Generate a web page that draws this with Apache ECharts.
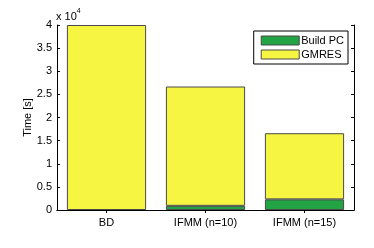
<!DOCTYPE html>
<html><head><meta charset="utf-8">
<script src="https://cdn.jsdelivr.net/npm/echarts@6/dist/echarts.min.js"></script>
<style>html,body{margin:0;padding:0;background:#fff}#c{width:374px;height:248px}</style>
</head><body><div id="c"></div>
<script>
var categories = ['BD', 'IFMM (n=10)', 'IFMM (n=15)'];
var buildPC = ['-', 900, 2300];
var gmres = [40000, 25800, 14300];
var yTicks = [0, 5000, 10000, 15000, 20000, 25000, 30000, 35000, 40000];

var font = 'Liberation Sans';
var chart = echarts.init(document.getElementById('c'), null, {renderer: 'canvas'});
var edge = {borderColor: '#4a4a4a', borderWidth: 1};
chart.setOption({
  animation: false,
  textStyle: {fontFamily: font},
  grid: {left: 57, right: 20, top: 25, bottom: 38},
  legend: {
    right: 26, top: 31, orient: 'vertical', itemWidth: 38, itemHeight: 9, itemGap: 3, icon: 'rect',
    padding: [4, 4, 4, 7], borderColor: '#000', borderWidth: 1, backgroundColor: '#fff',
    textStyle: {fontFamily: font, fontSize: 11, color: '#000', padding: [0, 0, 0, -3]},
    itemStyle: {borderColor: '#4a4a4a', borderWidth: 1},
    data: ['Build PC', 'GMRES']
  },
  graphic: [{
    type: 'text', left: 56, top: 8,
    style: {
      text: '{a|x 10}{b|4}', rich: {
        a: {fontFamily: font, fontSize: 11, fill: '#000', verticalAlign: 'bottom', lineHeight: 14},
        b: {fontFamily: font, fontSize: 7, fill: '#000', verticalAlign: 'top', lineHeight: 14}
      }
    }
  }],
  xAxis: [{
    type: 'category', data: categories, position: 'bottom',
    axisLine: {lineStyle: {color: '#000', width: 1}},
    axisTick: {show: false},
    axisLabel: {color: '#000', fontSize: 11, fontFamily: font, margin: 7}
  }, {
    type: 'category', data: categories, position: 'top',
    axisLine: {lineStyle: {color: '#000', width: 1}},
    axisTick: {show: true, inside: true, length: 3, alignWithLabel: true, lineStyle: {color: '#000'}},
    axisLabel: {show: false}
  }],
  yAxis: [{
    type: 'value', min: 0, max: 40000, interval: 5000, position: 'left',
    name: 'Time [s]', nameLocation: 'middle', nameGap: 24, nameMoveOverlap: false,
    nameTextStyle: {color: '#000', fontSize: 11, fontFamily: font},
    axisLine: {show: true, lineStyle: {color: '#000', width: 1}},
    axisTick: {show: true, inside: true, length: 3, lineStyle: {color: '#000'}},
    splitLine: {show: false},
    axisLabel: {color: '#000', fontSize: 11, fontFamily: font, margin: 5,
      formatter: function (v) { return yTicks.indexOf(v) >= 0 ? String(v / 10000) : ''; }}
  }, {
    type: 'value', min: 0, max: 40000, interval: 5000, position: 'right',
    axisLine: {show: true, lineStyle: {color: '#000', width: 1}},
    axisTick: {show: true, inside: true, length: 3, lineStyle: {color: '#000'}},
    splitLine: {show: false}, axisLabel: {show: false}
  }],
  series: [{
    name: 'Build PC', type: 'bar', stack: 't', data: buildPC, barWidth: '80%',
    itemStyle: Object.assign({color: '#22a444'}, edge)
  }, {
    name: 'GMRES', type: 'bar', stack: 't', data: gmres, barWidth: '80%',
    itemStyle: Object.assign({color: '#f5f542'}, edge)
  }]
});
</script></body></html>
